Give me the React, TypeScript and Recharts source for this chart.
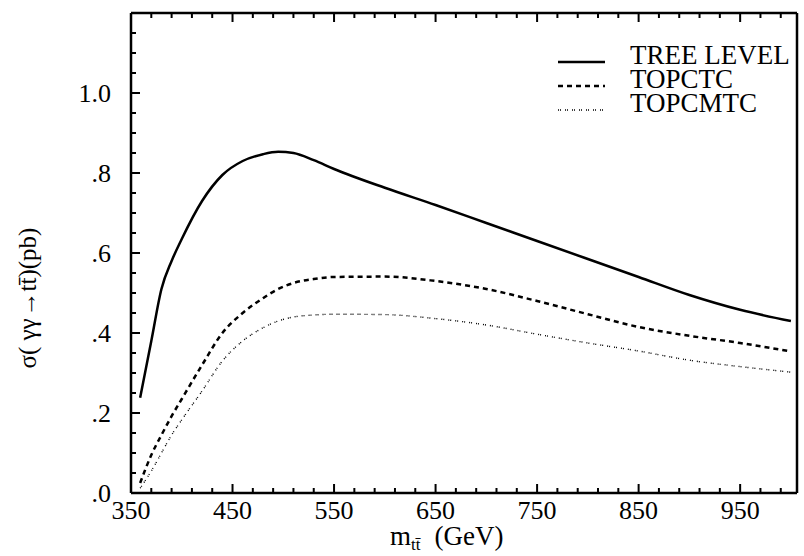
import React from 'react';
import { LineChart, XAxis, YAxis, Line, Legend } from 'recharts';

const massGeV = [359, 370, 380, 390, 400, 420, 440, 460, 480, 495, 510, 530, 550, 600, 650, 700, 750, 800, 850, 900, 950, 1000];
const treeLevel = [0.238, 0.38, 0.51, 0.58, 0.635, 0.73, 0.795, 0.83, 0.847, 0.853, 0.85, 0.832, 0.81, 0.763, 0.72, 0.675, 0.63, 0.585, 0.54, 0.495, 0.458, 0.43];
const topctc = [0.025, 0.095, 0.145, 0.192, 0.235, 0.32, 0.4, 0.45, 0.487, 0.51, 0.525, 0.535, 0.54, 0.541, 0.53, 0.51, 0.48, 0.447, 0.415, 0.393, 0.375, 0.354];
const topcmtc = [0.012, 0.055, 0.1, 0.145, 0.183, 0.255, 0.33, 0.38, 0.413, 0.43, 0.44, 0.445, 0.447, 0.446, 0.436, 0.42, 0.397, 0.375, 0.355, 0.332, 0.316, 0.302];

const xTicks = [370, 390, 410, 430, 450, 470, 490, 510, 530, 550, 570, 590, 610, 630, 650, 670, 690, 710, 730, 750, 770, 790, 810, 830, 850, 870, 890, 910, 930, 950, 970, 990];
const xLabels = [350, 450, 550, 650, 750, 850, 950];
const yTicks = [0.05, 0.1, 0.15, 0.2, 0.25, 0.3, 0.35, 0.4, 0.45, 0.5, 0.55, 0.6, 0.65, 0.7, 0.75, 0.8, 0.85, 0.9, 0.95, 1.0, 1.05, 1.1, 1.15];
const yLabels = ['.0', '.2', '.4', '.6', '.8', '1.0'];

const data = massGeV.map((m, i) => ({ m, tree: treeLevel[i], ctc: topctc[i], cmtc: topcmtc[i] }));

const FONT = '"Liberation Serif", "Times New Roman", serif';
const MAJOR = 9;
const MINOR = 5;
const X_MAX = 1006;

const isMajorX = (v: number) => (v - 350) % 100 === 0;
const isMajorY = (v: number) => Math.round(v * 100) % 20 === 0;

const BottomTick = (props: any) => {
  const { x, y, payload } = props;
  return <line x1={x} y1={y} x2={x} y2={y - (isMajorX(payload.value) ? MAJOR : MINOR)} stroke="#000" strokeWidth={2} />;
};

const TopTick = (props: any) => {
  const { x, y, payload } = props;
  return <line x1={x} y1={y} x2={x} y2={y + (isMajorX(payload.value) ? MAJOR : MINOR)} stroke="#000" strokeWidth={2} />;
};

const LeftTick = (props: any) => {
  const { x, y, payload } = props;
  return <line x1={x} y1={y} x2={x + (isMajorY(payload.value) ? MAJOR : MINOR)} y2={y} stroke="#000" strokeWidth={2} />;
};

const RightTick = (props: any) => {
  const { x, y, payload } = props;
  return <line x1={x} y1={y} x2={x - (isMajorY(payload.value) ? MAJOR : MINOR)} y2={y} stroke="#000" strokeWidth={2} />;
};

// tick numbers + axis title under the bottom axis
const XLabelsLayer = (props: any) => {
  const vb = props.viewBox;
  const scale = (v: number) => vb.x + ((v - 350) / (X_MAX - 350)) * vb.width;
  return (
    <g fontFamily={FONT} fontSize={26} fill="#000">
      {xLabels.map((v) => (
        <text key={v} x={scale(v)} y={vb.y + 26}
          textAnchor="middle">{v}</text>
      ))}
      <text x={390} y={545} fontSize={27}>
        m<tspan fontSize={17} dy={5}>tt̄</tspan>
        <tspan dx={14} dy={-5}>(GeV)</tspan>
      </text>
    </g>
  );
};

const YLabelsLayer = (props: any) => {
  const vb = props.viewBox;
  const bottom = vb.y + vb.height;
  return (
    <g fontFamily={FONT} fontSize={26} fill="#000">
      {yLabels.map((s, i) => (
        <text key={s} x={vb.x + vb.width - 20} y={bottom - ((i * 0.2) / 1.2) * vb.height + 9} textAnchor="end">{s}</text>
      ))}
      <text x={36} y={298} textAnchor="middle" transform="rotate(-90 36 298)" fontSize={25}>
        σ(<tspan dx={6}>γγ</tspan>
        <tspan dx={2}>→tt̄)(pb)</tspan>
      </text>
    </g>
  );
};

const legendItems = [
  { name: 'TREE LEVEL', dash: undefined as string | undefined, width: 2.5 },
  { name: 'TOPCTC', dash: '5 4', width: 2.5 },
  { name: 'TOPCMTC', dash: '1 1 1 4', width: 1.4 },
];

const renderLegend = () => (
  <svg width={260} height={80} style={{ overflow: 'visible' }}>
    {legendItems.map((it, i) => (
      <g key={it.name}>
        <line x1={0} x2={47} y1={12 + i * 24} y2={12 + i * 24} stroke="#000" strokeWidth={it.width} strokeDasharray={it.dash} />
        <text x={72} y={14 + i * 24} fontFamily={FONT} fontSize={27} fill="#000">{it.name}</text>
      </g>
    ))}
  </svg>
);

export default function App() {
  return (
    <div style={{ position: 'absolute', left: 0, top: 0, width: 804, height: 556, background: '#fff' }}>
      <LineChart width={804} height={556} data={data} margin={{ top: 0, right: 0, bottom: 0, left: 0 }}>
        <XAxis
          xAxisId="bottom"
          dataKey="m"
          type="number"
          domain={[350, X_MAX]}
          ticks={xTicks}
          interval={0}
          height={63}
          tickSize={0}
          tickMargin={0}
          tickLine={false}
          axisLine={{ stroke: '#000', strokeWidth: 2.5 }}
          tick={BottomTick}
          label={{ content: XLabelsLayer }}
        />
        <XAxis
          xAxisId="top"
          orientation="top"
          dataKey="m"
          type="number"
          domain={[350, X_MAX]}
          ticks={xTicks}
          interval={0}
          height={13}
          tickSize={0}
          tickMargin={0}
          tickLine={false}
          axisLine={{ stroke: '#000', strokeWidth: 2.5 }}
          tick={TopTick}
        />
        <YAxis
          yAxisId="left"
          type="number"
          domain={[0, 1.2]}
          ticks={yTicks}
          interval={0}
          width={131}
          tickSize={0}
          tickMargin={0}
          tickLine={false}
          axisLine={{ stroke: '#000', strokeWidth: 2.5 }}
          tick={LeftTick}
          label={{ content: YLabelsLayer }}
        />
        <YAxis
          yAxisId="right"
          orientation="right"
          type="number"
          domain={[0, 1.2]}
          ticks={yTicks}
          interval={0}
          width={7}
          tickSize={0}
          tickMargin={0}
          tickLine={false}
          axisLine={{ stroke: '#000', strokeWidth: 2.5 }}
          tick={RightTick}
        />
        <Legend
          layout="horizontal"
          verticalAlign="middle"
          align="center"
          content={renderLegend}
          wrapperStyle={{ position: 'absolute', left: 558, top: 50, width: 260, height: 80 }}
        />
        <Line xAxisId="bottom" yAxisId="left" type="monotone" dataKey="tree" name="TREE LEVEL" stroke="#000" strokeWidth={2.5} dot={false} isAnimationActive={false} />
        <Line xAxisId="bottom" yAxisId="left" type="monotone" dataKey="ctc" name="TOPCTC" stroke="#000" strokeWidth={2.5} strokeDasharray="5 4" dot={false} isAnimationActive={false} />
        <Line xAxisId="bottom" yAxisId="left" type="monotone" dataKey="cmtc" name="TOPCMTC" stroke="#000" strokeWidth={1.4} strokeDasharray="1 1 1 4" dot={false} isAnimationActive={false} />
      </LineChart>
    </div>
  );
}
